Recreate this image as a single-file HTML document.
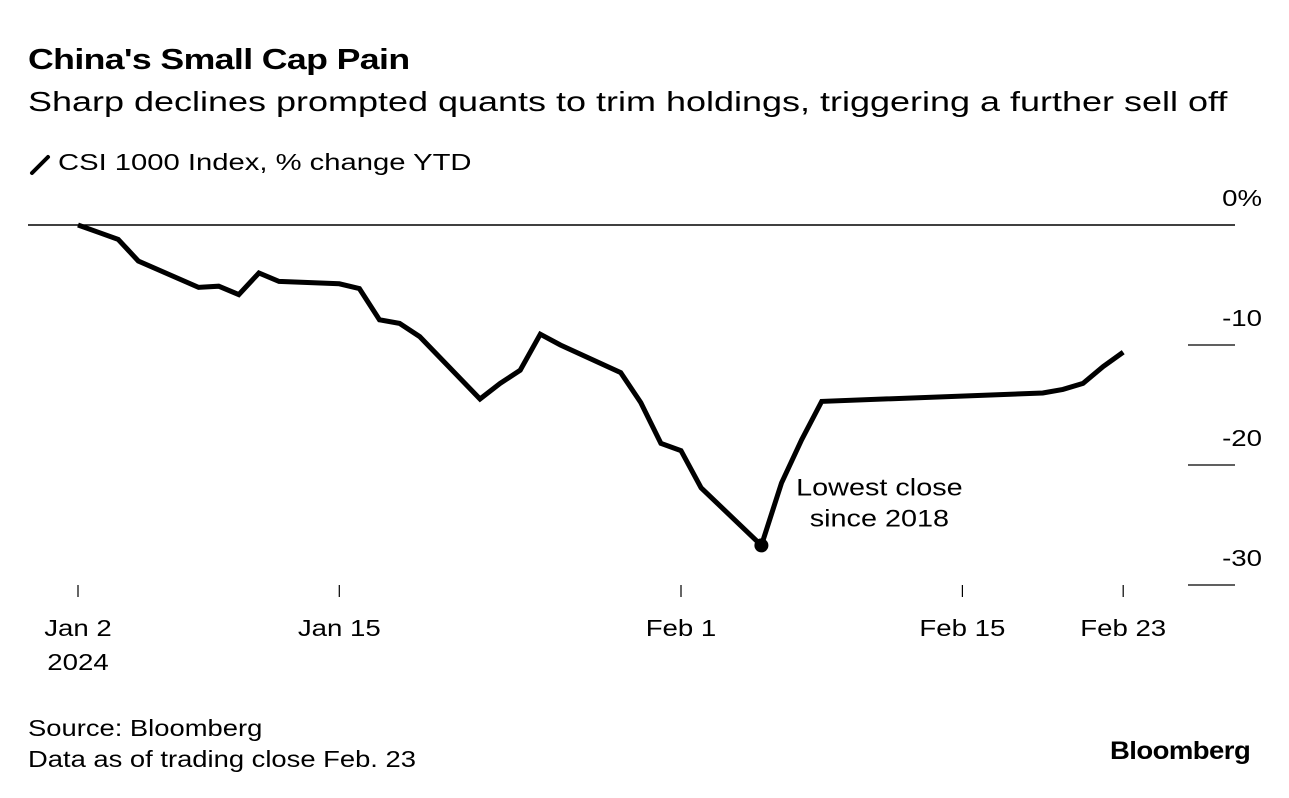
<!DOCTYPE html>
<html><head><meta charset="utf-8"><style>
html,body{margin:0;padding:0;background:#fff;}
body{width:1289px;height:798px;position:relative;overflow:hidden;font-family:"Liberation Sans",Arial,sans-serif;color:#000;}
.t{position:absolute;white-space:nowrap;transform-origin:0 0;}
</style></head><body>
<div class="t" style="left:28px;top:44px;font-size:29px;font-weight:bold;letter-spacing:-0.5px;transform:scaleX(1.23);">China's Small Cap Pain</div>
<div class="t" style="left:28px;top:86px;font-size:28px;transform:scaleX(1.285);">Sharp declines prompted quants to trim holdings, triggering a further sell off</div>
<svg width="24" height="24" style="position:absolute;left:28px;top:153px"><line x1="4" y1="20" x2="20" y2="4" stroke="#000" stroke-width="4" stroke-linecap="round"/></svg>
<div class="t" style="left:58px;top:149px;font-size:23px;transform:scaleX(1.27);">CSI 1000 Index, % change YTD</div>
<svg id="chart" width="1289" height="798" style="position:absolute;left:0;top:0"></svg>
<div class="t" style="left:28px;top:713px;font-size:23px;line-height:31px;transform:scaleX(1.19);">Source: Bloomberg<br>Data as of trading close Feb. 23</div>
<div class="t" style="left:1110px;top:737px;font-size:25px;font-weight:bold;letter-spacing:-0.5px;transform:scaleX(1.1);">Bloomberg</div>
<script>
const dates=["2024-01-02","2024-01-03","2024-01-04","2024-01-05","2024-01-08","2024-01-09","2024-01-10","2024-01-11","2024-01-12","2024-01-15","2024-01-16","2024-01-17","2024-01-18","2024-01-19","2024-01-22","2024-01-23","2024-01-24","2024-01-25","2024-01-26","2024-01-29","2024-01-30","2024-01-31","2024-02-01","2024-02-02","2024-02-05","2024-02-06","2024-02-07","2024-02-08","2024-02-19","2024-02-20","2024-02-21","2024-02-22","2024-02-23"];
const values=[0,-0.6,-1.2,-3.0,-5.2,-5.1,-5.8,-4.0,-4.7,-4.9,-5.3,-7.9,-8.2,-9.3,-14.5,-13.2,-12.1,-9.1,-10.0,-12.3,-14.8,-18.2,-18.8,-21.9,-26.7,-21.5,-17.9,-14.7,-14.0,-13.7,-13.2,-11.8,-10.6];
const yTicks=[0,-10,-20,-30];
const yTickLabels=["0%","-10","-20","-30"];
const xTicks=["2024-01-02","2024-01-15","2024-02-01","2024-02-15","2024-02-23"];
const xTickLabels=["Jan 2","Jan 15","Feb 1","Feb 15","Feb 23"];
const NS="http://www.w3.org/2000/svg";
const svg=document.getElementById('chart');
const t0=Date.parse("2024-01-02");
const SX=1.2;
function x(d){return 78+(Date.parse(d)-t0)/86400000*20.1;}
function y(v){return 225-v*12;}
function mk(tag,attrs){const e=document.createElementNS(NS,tag);for(const k in attrs)e.setAttribute(k,attrs[k]);svg.appendChild(e);return e;}
function widen(t){const w=t.getComputedTextLength();t.setAttribute('textLength',w*SX);t.setAttribute('lengthAdjust','spacingAndGlyphs');}
yTicks.forEach((v,i)=>{
  const l=mk('line',{x1:v===0?28:1188,x2:1235,y1:y(v),y2:y(v),stroke:'#000','stroke-width':v===0?1.5:1.2});
  
  
  const t=mk('text',{x:1262,y:y(v)-19,'text-anchor':'end','font-size':23,'font-family':'Liberation Sans, sans-serif'});
  t.textContent=yTickLabels[i];
  
  
  widen(t);
});
xTicks.forEach((d,i)=>{
  const l=mk('line',{x1:x(d),x2:x(d),y1:585,y2:597,stroke:'#000','stroke-width':1.2});
  
  
  const t=mk('text',{x:x(d),y:636,'text-anchor':'middle','font-size':23,'font-family':'Liberation Sans, sans-serif'});
  t.textContent=xTickLabels[i];
  
  
  widen(t);
});
const yr=mk('text',{x:x(xTicks[0]),y:670,'text-anchor':'middle','font-size':23,'font-family':'Liberation Sans, sans-serif'});
yr.textContent="2024";


widen(yr);
const p=mk('polyline',{points:dates.map((d,i)=>x(d)+','+y(values[i])).join(' '),fill:'none',stroke:'#000','stroke-width':5,'stroke-linejoin':'miter'});


let mi=0;values.forEach((v,i)=>{if(v<values[mi])mi=i;});
const c=mk('circle',{cx:x(dates[mi]),cy:y(values[mi]),r:7,fill:'#000'});


const ax=x(dates[mi])+118;
['Lowest close','since 2018'].forEach((s,i)=>{
  const a=mk('text',{x:ax,y:y(values[mi])-50+i*31,'text-anchor':'middle','font-size':24,'font-family':'Liberation Sans, sans-serif'});
  a.textContent=s;
  
  
  widen(a);
});
</script>
</body></html>
